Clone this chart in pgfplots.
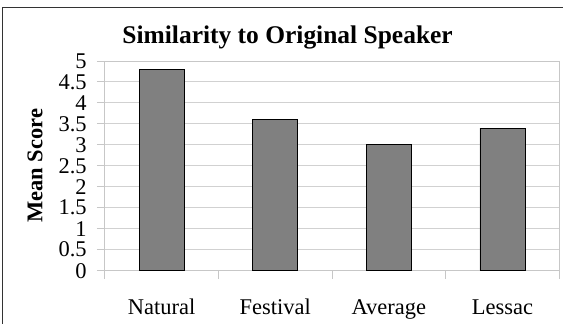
\documentclass[border=0pt]{standalone}
\usepackage{pgfplots}
\pgfplotsset{compat=1.18}
\usepackage{fontspec}
\setmainfont{Liberation Serif}
\begin{document}
\begin{tikzpicture}
\path (0pt,0pt) rectangle (564pt,324pt);
\draw[line width=1.5pt, black!80] (2.7pt,0pt) -- (2.7pt,316.5pt) -- (564pt,316.5pt);
\begin{axis}[
  at={(105pt,53pt)}, anchor=south west,
  scale only axis, width=455pt, height=210pt,
  xmin=0.5, xmax=4.5, ymin=0, ymax=5,
  ytick={0,0.5,...,5},
  yticklabels={0,0.5,1,1.5,2,2.5,3,3.5,4,4.5,5},
  xtick={0.5,1.5,2.5,3.5,4.5},
  xticklabels={},
  extra x ticks={1,2,3,4},
  extra x tick labels={Natural,Festival,Average,Lessac},
  extra x tick style={major tick length=0pt, xticklabel style={anchor=base, inner sep=0pt, yshift=-44pt}},
  xtick pos=lower, ytick pos=left,
  tick align=outside,
  major tick length=8pt,
  tick style={draw=black!22, line width=0.8pt},
  axis line style={draw=black!22, line width=0.8pt},
  ymajorgrids, grid style={draw=black!18, line width=0.8pt},
  tick label style={font=\fontsize{22.5}{22.5}\selectfont},
  yticklabel style={anchor=east, inner sep=0pt, xshift=-10pt},
  title={\textbf{Similarity to Original Speaker}},
  title style={font=\fontsize{25.5}{25.5}\selectfont, at={(axis description cs:0.5,1)}, anchor=base, inner sep=0pt, xshift=-44.5pt, yshift=11pt},
  clip=false,
]
\addplot[ybar, bar width=45pt, fill=black!50, draw=black, line width=0.8pt] coordinates {(1,4.8) (2,3.6) (3,3.0) (4,3.4)};
\end{axis}
\node[rotate=90, font=\fontsize{22.5}{22.5}\selectfont, inner sep=0pt] at (35pt,158pt) {\textbf{Mean Score}};
\end{tikzpicture}
\end{document}
